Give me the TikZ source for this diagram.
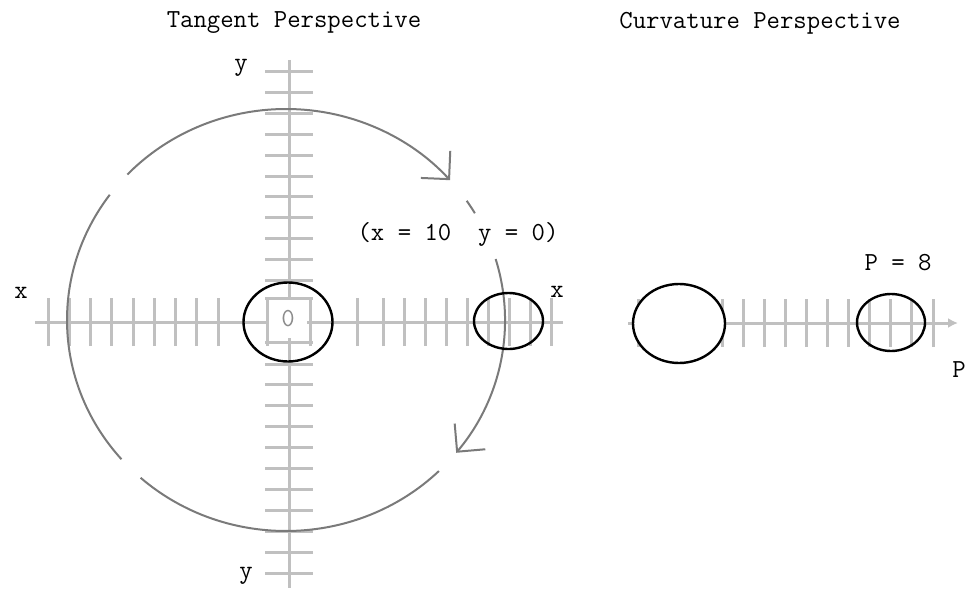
\documentclass[tikz,border=0pt]{standalone}
\usepackage{tikz}
\usetikzlibrary{arrows.meta,shapes.geometric}
\definecolor{axisgray}{RGB}{192,192,192}
\definecolor{loopgray}{RGB}{122,122,122}
\definecolor{zerogray}{RGB}{140,140,140}
\tikzset{
  axisline/.style={draw=axisgray,line width=1.5pt},
  orbitarc/.style={draw=loopgray,line width=1pt},
  orbitarrow/.style={orbitarc,-{Straight Barb[length=10pt,width=20pt]}},
  ringbox/.style={ellipse,draw=black,line width=1.2pt,inner sep=0pt},
  axislabel/.style={font=\fontsize{13}{15}\selectfont\ttfamily,inner sep=0pt,anchor=base},
  zerolabel/.style={font=\fontsize{13}{15}\selectfont\ttfamily,text=zerogray,fill=white,
    inner sep=0pt,minimum size=19pt}
}

\begin{document}
\begin{tikzpicture}[x=0.5pt,y=0.5pt]
  \useasboundingbox (0,0) rectangle (972,590);
  \coordinate (xstart) at (35,268);
  \coordinate (xend) at (563,268);
  \coordinate (ystart) at (289,530);
  \coordinate (yend) at (289,2);
  \coordinate (pstart) at (628,267);
  \coordinate (pend) at (958,267);
  \draw[axisline] (xstart) -- (xend);
  \draw[axisline] (ystart) -- (yend);
  \foreach \i in {0,...,8}
    \draw[axisline] (48+21.25*\i,244) -- ++(0,48);
  \foreach \tx in {267,310,357}
    \draw[axisline] (\tx,244) -- ++(0,48);
  \foreach \i in {0,...,8}
    \draw[axisline] (383+21*\i,244) -- ++(0,48);
  \foreach \i in {0,...,10}
    \draw[axisline] (265,310+20.8*\i) -- ++(48,0);
  \foreach \ty in {292,248}
    \draw[axisline] (265,\ty) -- ++(48,0);
  \foreach \i in {0,...,10}
    \draw[axisline] (265,226-20.9*\i) -- ++(48,0);
  \draw[axisline,-{Latex[length=5pt,width=5pt]}] (pstart) -- (pend);
  \foreach \i in {0,...,14}
    \draw[axisline] (638+21.07*\i,243) -- ++(0,48);

  \coordinate (orbitc) at (286,270);
  \draw[orbitarrow] (orbitc) ++(136.4:219 and 211)
    arc[start angle=136.4,end angle=41.5,x radius=219,y radius=211];
  \draw[orbitarc] (orbitc) ++(34.4:219 and 211)
    arc[start angle=34.4,end angle=30.4,x radius=219,y radius=211];
  \draw[orbitarrow] (orbitc) ++(16.8:219 and 211)
    arc[start angle=16.8,end angle=-39,x radius=219,y radius=211];
  \draw[orbitarc] (orbitc) ++(-45.7:219 and 211)
    arc[start angle=-45.7,end angle=-131.6,x radius=219,y radius=211];
  \draw[orbitarc] (orbitc) ++(-138.7:219 and 211)
    arc[start angle=-138.7,end angle=-216.4,x radius=219,y radius=211];

  \node[zerolabel] (origin) at (288,271) {0};
  \node[ringbox,minimum width=44.5pt,minimum height=39.5pt] (ringzero) at (288,268) {};
  \node[ringbox,minimum width=34.5pt,minimum height=28pt] (ringten) at (508.5,269) {};
  \node[ringbox,fill=white,minimum width=46pt,minimum height=39.5pt] (ringlarge) at (679,266.5) {};
  \node[ringbox,minimum width=34pt,minimum height=28.5pt] (ringeight) at (891,267.5) {};

  \node[axislabel] (tangtitle) at (294,562) {Tangent Perspective};
  \node[axislabel] (curvtitle) at (760,561) {Curvature Perspective};
  \node[axislabel] (ytop) at (241,519) {y};
  \node[axislabel] (ybottom) at (246,12) {y};
  \node[axislabel] (xleft) at (21,292) {x};
  \node[axislabel] (xright) at (557,293) {x};
  \node[axislabel] (poslabel) at (458,350) {(x = 10\ \ y = 0)};
  \node[axislabel] (pvalue) at (898,320) {P = 8};
  \node[axislabel] (paxis) at (959,213) {P};
\end{tikzpicture}
\end{document}
